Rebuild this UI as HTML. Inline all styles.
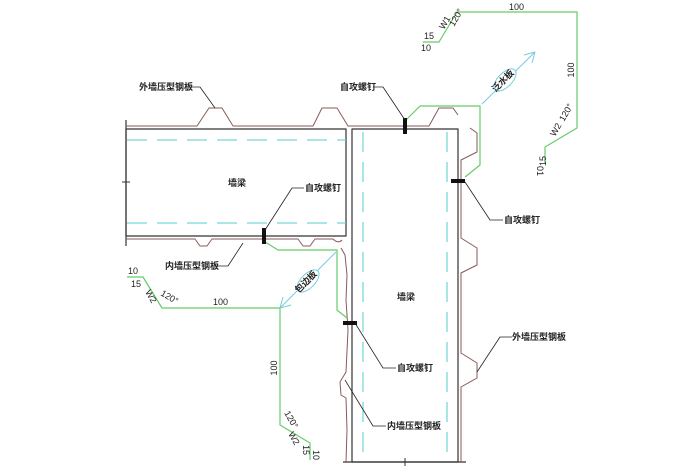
<!DOCTYPE html>
<html><head><meta charset="utf-8"><style>
html,body{margin:0;padding:0;background:#fff;width:700px;height:466px;overflow:hidden}
text{font-family:"Liberation Sans","Noto Sans CJK SC",sans-serif;font-size:9px;fill:#222}
.c{font-family:"Noto Sans CJK SC","WenQuanYi Zen Hei",sans-serif;font-size:9px;font-weight:bold}
</style></head><body>
<svg width="700" height="466" viewBox="0 0 700 466" xmlns="http://www.w3.org/2000/svg">
<g fill="none" stroke-linejoin="round">
<!-- horizontal beam -->
<line x1="126" y1="120" x2="126" y2="246" stroke="#333" stroke-width="1.2"/>
<line x1="122" y1="182" x2="130" y2="182" stroke="#333"/>
<rect x="126" y="129" width="220" height="107" stroke="#333" stroke-width="1.2"/>
<line x1="127" y1="140" x2="346" y2="140" stroke="#5cc" stroke-dasharray="20,10"/>
<line x1="127" y1="223" x2="346" y2="223" stroke="#5cc" stroke-dasharray="20,10"/>
<!-- outer plate top -->
<path d="M126 126 H197 L209 108 H222 L233 126 H313 L322 108 H337 L348 126 H429 L439 108 H453 L458 115" stroke="#8a5a5a" stroke-width="1"/>
<!-- inner plate bottom horizontal -->
<path d="M126 239 H195 L200 246 H207 L212 239 H298 L303 246 H310 L315 239 H333 Q338 244 342 240" stroke="#8a5a5a" stroke-width="1"/>
<!-- vertical beam -->
<rect x="352" y="129" width="106" height="333" stroke="#333" stroke-width="1.2"/>
<line x1="363" y1="132" x2="363" y2="462" stroke="#5cc" stroke-dasharray="20,10"/>
<line x1="447" y1="132" x2="447" y2="462" stroke="#5cc" stroke-dasharray="20,10"/>
<line x1="343" y1="462" x2="466" y2="462" stroke="#333" stroke-width="1.2"/>
<line x1="405" y1="458" x2="405" y2="466" stroke="#333"/>
<!-- outer plate right -->
<path d="M470 128 L477 133 V152 L461 160 V238 L477 248 V265 L461 273 V353 L477 363 V378 L461 387 V462" stroke="#8a5a5a" stroke-width="1"/>
<!-- inner plate left wavy -->
<path d="M341 248 L345 255 L347 275 L346 300 L348 330 L346 372 L340 382 L341 395 L346 398 L347 430 L346 462" stroke="#8a5a5a" stroke-width="1"/>
<!-- green flashings -->
<path d="M403 123 L420 106 H480 V165 L465 177" stroke="#6c6" stroke-width="1.2"/>
<path d="M423 42 H439 L457 12 H577 V128 L545 147 V163" stroke="#6c6" stroke-width="1.2"/>
<path d="M262 240 L278 250 H337 V310 L347 318" stroke="#6c6" stroke-width="1.2"/>
<path d="M127 277 H143 L162 308 H280 V425 L310 443 V460" stroke="#6c6" stroke-width="1.2"/>
<!-- cyan arrows -->
<path d="M482 104 L535 52 M535 52 L524 55 M535 52 L532 63" stroke="#7cd" stroke-width="1"/>
<ellipse cx="505" cy="80" rx="14" ry="7" transform="rotate(-45 505 80)" fill="#fff" stroke="#7cd"/>
<path d="M280 308 L336 252 M280 308 L291 305 M280 308 L283 297" stroke="#7cd" stroke-width="1"/>
<ellipse cx="308" cy="281" rx="14" ry="7" transform="rotate(-45 308 281)" fill="#fff" stroke="#7cd"/>
<!-- screws -->
<rect x="403" y="118" width="4" height="16" fill="#111" stroke="none"/>
<rect x="262" y="228" width="4" height="16" fill="#111" stroke="none"/>
<rect x="451" y="179" width="14" height="4" fill="#111" stroke="none"/>
<rect x="343" y="321" width="14" height="4" fill="#111" stroke="none"/>
<!-- leaders -->
<path d="M190 87 H200 L215 108" stroke="#222" stroke-width="0.8"/>
<path d="M373 87 H383 L405 120" stroke="#222" stroke-width="0.8"/>
<path d="M304 188 H292 L265 230" stroke="#222" stroke-width="0.8"/>
<path d="M215 266 H228 L243 243" stroke="#222" stroke-width="0.8"/>
<path d="M503 220 H490 L465 182" stroke="#222" stroke-width="0.8"/>
<path d="M396 368 H383 L355 323" stroke="#222" stroke-width="0.8"/>
<path d="M386 426 H373 L345 380" stroke="#222" stroke-width="0.8"/>
<path d="M512 337 H500 L477 372" stroke="#222" stroke-width="0.8"/>
</g>
<text class="c" x="139" y="90">外墙压型钢板</text>
<text class="c" x="340" y="90">自攻螺钉</text>
<text class="c" x="228" y="186">墙梁</text>
<text class="c" x="305" y="191">自攻螺钉</text>
<text class="c" x="165" y="269">内墙压型钢板</text>
<text class="c" x="504" y="223">自攻螺钉</text>
<text class="c" x="397" y="300">墙梁</text>
<text class="c" x="397" y="371">自攻螺钉</text>
<text class="c" x="387" y="429">内墙压型钢板</text>
<text class="c" x="512" y="340">外墙压型钢板</text>
<text class="c" transform="translate(505,83) rotate(-45)" text-anchor="middle" font-size="8">泛水板</text>
<text class="c" transform="translate(308,284) rotate(-45)" text-anchor="middle" font-size="8">包边板</text>
<text x="509" y="10">100</text>
<text transform="translate(574,70) rotate(-90)" text-anchor="middle">100</text>
<text x="424" y="39">15</text>
<text x="421" y="51">10</text>
<text transform="translate(444,30) rotate(-60)">W1</text>
<text transform="translate(454,27) rotate(-60)">120°</text>
<text transform="translate(555,137) rotate(-60)">W2</text>
<text transform="translate(564,122) rotate(-60)">120°</text>
<text transform="translate(546,166) rotate(-90)">15</text>
<text transform="translate(537,166) rotate(-270)" font-size="9">01</text>
<text x="213" y="305">100</text>
<text transform="translate(277,368) rotate(-90)" text-anchor="middle">100</text>
<text x="128" y="274">10</text>
<text x="131" y="287">15</text>
<text transform="translate(145,292) rotate(60)">W2</text>
<text transform="translate(160,295) rotate(30)">120°</text>
<text transform="translate(284,413) rotate(60)">120°</text>
<text transform="translate(288,434) rotate(60)">W2</text>
<text transform="translate(303,445) rotate(90)">15</text>
<text transform="translate(313,450) rotate(90)">10</text>
</svg>
</body></html>
